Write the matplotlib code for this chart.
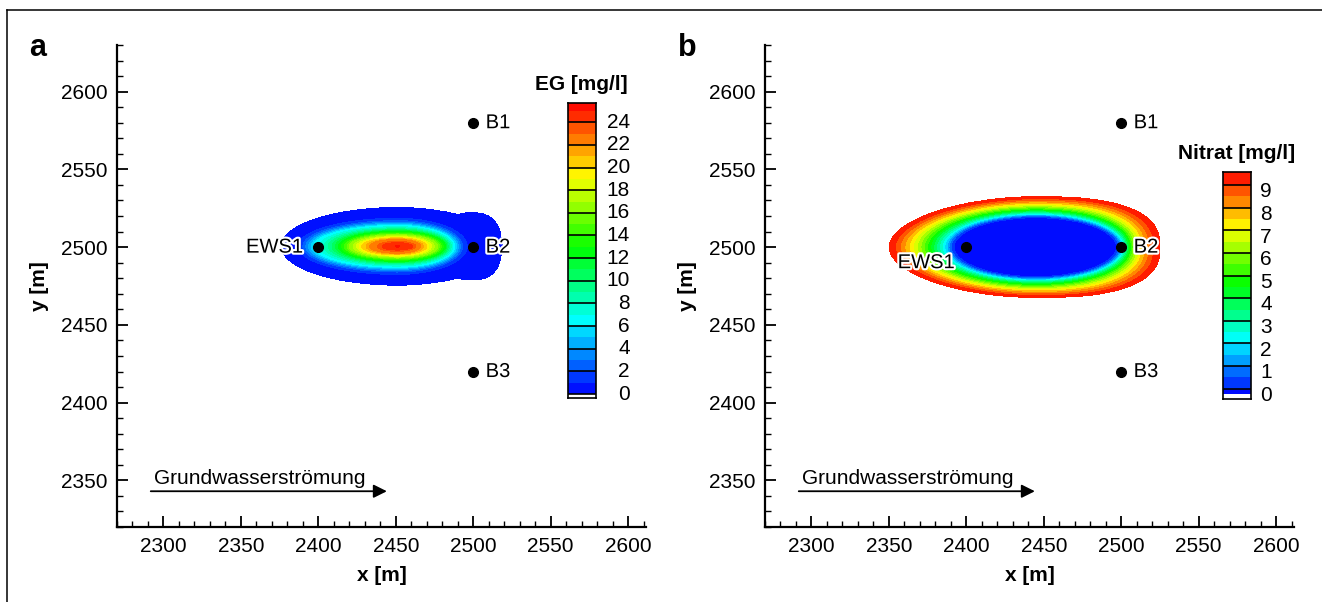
import numpy as np
import matplotlib.pyplot as plt
import matplotlib.patheffects as pe
from matplotlib.colors import LinearSegmentedColormap
from matplotlib.lines import Line2D
from matplotlib.ticker import MultipleLocator

plt.rcParams['font.family'] = ['Liberation Sans', 'DejaVu Sans']

# Brunnen / Messstellen
well_names = ['EWS1', 'B1', 'B2', 'B3']
well_x = [2400, 2500, 2500, 2500]
well_y = [2500, 2580, 2500, 2420]

# EG-Fahne (a): Konturwert und Ausdehnung (links, rechts, halbe Höhe) vom Zentrum, von außen nach innen
eg_center = (2451, 2500.5)
eg_vals = [0.1, 1, 2, 6, 12, 16, 20, 22, 24, 25.6]
eg_left = [75, 64, 61, 54, 38, 31, 23, 18, 10, 1]
eg_right = [68, 45, 42, 37, 31, 26, 19, 15, 10, 1]
eg_half_h = [25, 18, 16.5, 13.5, 9.7, 7.5, 5.5, 4.5, 2.5, 0.3]
eg_expo_l = [2, 2, 2, 2, 2, 2, 2, 2, 2, 2]
eg_expo_r = [2, 2, 2, 2, 2, 2, 2, 2, 2, 2]
# Ausbuchtung um B2 (niedrige Werte)
lobe_center = (2499, 2500.5)
lobe_size = (20, 22.5)
lobe_peak = 0.9

# Nitrat-Fahne (b)
no3_center = (2445, 2500)
no3_vals = [9.87, 9, 8, 6, 4, 2, 1, 0.3, 0]
no3_left = [95, 89, 83, 73, 65, 58, 55.5, 53, 1]
no3_right = [80, 74, 69, 63, 59, 56, 54, 52, 1]
no3_half_h = [32.5, 30.5, 28.5, 25.5, 23, 21, 20, 19, 0.3]
no3_expo_l = [1.9, 1.9, 1.95, 2, 2, 2, 2, 2, 2]
no3_expo_r = [2.6, 2.5, 2.4, 2.2, 2.1, 2, 2, 2, 2]

# Farbskalen
eg_bounds = list(range(0, 26)) + [25.7]
eg_lines = list(range(0, 26, 2))
eg_ticks = list(range(0, 26, 2))
eg_bottom = -0.35
no3_bounds = [0.07] + [0.3 + 0.5 * i for i in range(19)] + [9.87]
no3_lines = [0.3 + i for i in range(10)]
no3_ticks = list(range(0, 10))
no3_bottom = -0.15

cmap = LinearSegmentedColormap.from_list(
    'tec', ['#0000ff', '#00ffff', '#00ff00', '#ffff00', '#ff0000'])


def plume(X, Y, center, vals, left, right, half_h, expo_l, expo_r, outside):
    dx = X - center[0]
    dy = Y - center[1]
    rho = []
    for k in range(len(vals)):
        w = np.where(dx < 0, left[k], right[k])
        p = np.where(dx < 0, expo_l[k], expo_r[k])
        rho.append((np.abs(dx / w) ** p + np.abs(dy / half_h[k]) ** p) ** (1.0 / p))
    rho = np.array(rho)
    vals = np.asarray(vals, float)
    K = len(vals)
    n = np.cumprod(rho < 1, axis=0).sum(axis=0)
    i0 = np.clip(n - 1, 0, K - 1)
    i1 = np.clip(n, 0, K - 1)
    r0 = np.take_along_axis(rho, i0[None], axis=0)[0]
    r1 = np.take_along_axis(rho, i1[None], axis=0)[0]
    f = np.clip((1 - r0) / np.maximum(r1 - r0, 1e-9), 0, 1)
    v = vals[i0] + f * (vals[i1] - vals[i0])
    return np.where(n == 0, outside, np.where(n == K, vals[-1], v))


gx = np.arange(2330, 2545, 0.2)
gy = np.arange(2455, 2546, 0.2)
X, Y = np.meshgrid(gx, gy)

eg = plume(X, Y, eg_center, eg_vals, eg_left, eg_right, eg_half_h, eg_expo_l, eg_expo_r, 0.0)
rl = (np.abs((X - lobe_center[0]) / lobe_size[0]) ** 2.5 +
      np.abs((Y - lobe_center[1]) / lobe_size[1]) ** 2.5) ** (1 / 2.5)
eg = np.maximum(eg, lobe_peak * np.clip(1 - rl ** 3, 0, None))

no3 = plume(X, Y, no3_center, no3_vals, no3_left, no3_right, no3_half_h,
            no3_expo_l, no3_expo_r, 10.0)


def band_colors(bounds):
    top = bounds[-1]
    return [cmap(0.5 * (lo + hi) / top) for lo, hi in zip(bounds[:-1], bounds[1:])]


eg_colors = band_colors(eg_bounds)
no3_colors = band_colors([0] + no3_bounds[1:])

fig = plt.figure(figsize=(13.22, 6.02), dpi=100)
W, H = 1322, 602

# Rahmen
fig.add_artist(Line2D([7 / W, 7 / W], [0, 1 - 10 / H], transform=fig.transFigure, color='k', lw=1.1))
fig.add_artist(Line2D([7 / W, 1], [1 - 10 / H, 1 - 10 / H], transform=fig.transFigure, color='k', lw=1.1))


def setup_axes(ax):
    ax.set_xlim(2270, 2611.5)
    ax.set_ylim(2320, 2630)
    for s in ['top', 'right']:
        ax.spines[s].set_visible(False)
    for s in ['left', 'bottom']:
        ax.spines[s].set_linewidth(1.6)
    ax.xaxis.set_major_locator(MultipleLocator(50))
    ax.yaxis.set_major_locator(MultipleLocator(50))
    ax.xaxis.set_minor_locator(MultipleLocator(10))
    ax.yaxis.set_minor_locator(MultipleLocator(10))
    ax.tick_params(which='major', direction='in', length=8, width=1.3, labelsize=15, pad=7)
    ax.tick_params(which='minor', direction='in', length=4.5, width=1.0)
    ax.set_xlabel('x [m]', fontsize=15, fontweight='bold')
    ax.set_ylabel('y [m]', fontsize=15, fontweight='bold')
    ax.xaxis.set_label_coords(0.5, -0.081)
    ax.yaxis.set_label_coords(-0.128, 0.5)
    ax.annotate('', xy=(2446, 2343), xytext=(2290, 2343),
                arrowprops=dict(arrowstyle='-|>', mutation_scale=20, lw=1.3, color='k'))
    ax.text(2294, 2347.5, 'Grundwasserströmung', fontsize=15, va='baseline', ha='left')


def draw_wells(ax, ews_pos, ews_ha):
    halo = [pe.withStroke(linewidth=3, foreground='white')]
    ax.plot(well_x, well_y, 'o', color='k', ms=7, zorder=3)
    for name, x, y in zip(well_names, well_x, well_y):
        if name == 'EWS1':
            ax.text(ews_pos[0], ews_pos[1], name, fontsize=14.5, ha=ews_ha, va='center',
                    path_effects=halo, zorder=4)
        else:
            ax.text(x + 8, y, name, fontsize=14.5, ha='left', va='center',
                    path_effects=halo, zorder=4)


def draw_colorbar(rect, bounds, colors, bottom, lines, ticks, title, label_x, title_dy):
    cax = fig.add_axes(rect)
    cax.set_xlim(0, 1)
    cax.set_ylim(bottom, bounds[-1])
    cax.axhspan(bottom, bounds[0], color='white', lw=0)
    for lo, hi, c in zip(bounds[:-1], bounds[1:], colors):
        cax.axhspan(lo, hi, color=c, lw=0)
    for v in lines:
        cax.axhline(v, color='k', lw=1.2)
    for s in cax.spines.values():
        s.set_linewidth(1.2)
    cax.set_xticks([])
    cax.set_yticks([])
    for t in ticks:
        cax.text(label_x, t, str(t), fontsize=15, ha='right', va='center',
                 transform=cax.get_yaxis_transform())
    cax.text(0.5, 1 + title_dy, title, fontsize=15, fontweight='bold', ha='center', va='center',
             transform=cax.transAxes)


# Panel a
ax1 = fig.add_axes([117 / W, 1 - 527 / H, 529 / W, 482 / H])
ax1.contourf(X, Y, eg, levels=[0.1] + eg_bounds[1:], colors=eg_colors, zorder=1)
setup_axes(ax1)
draw_wells(ax1, (2390, 2500), 'right')
draw_colorbar([568 / W, 1 - 398 / H, 27.5 / W, 295 / H], eg_bounds, eg_colors, eg_bottom,
              eg_lines, eg_ticks, 'EG [mg/l]', 2.25, 18 / 295)
fig.text(38 / W, 1 - 48 / H, 'a', fontsize=22, fontweight='bold', ha='center', va='center')

# Panel b
ax2 = fig.add_axes([765 / W, 1 - 527 / H, 529 / W, 482 / H])
ax2.contourf(X, Y, no3, levels=[-1] + no3_bounds[1:], colors=no3_colors, zorder=1)
setup_axes(ax2)
draw_wells(ax2, (2374, 2490), 'center')
draw_colorbar([1223 / W, 1 - 399 / H, 27.5 / W, 227 / H], no3_bounds, no3_colors, no3_bottom,
              no3_lines, no3_ticks, 'Nitrat [mg/l]', 1.78, 18 / 227)
fig.text(687 / W, 1 - 48 / H, 'b', fontsize=22, fontweight='bold', ha='center', va='center')

fig.savefig('out.png', dpi=100)
